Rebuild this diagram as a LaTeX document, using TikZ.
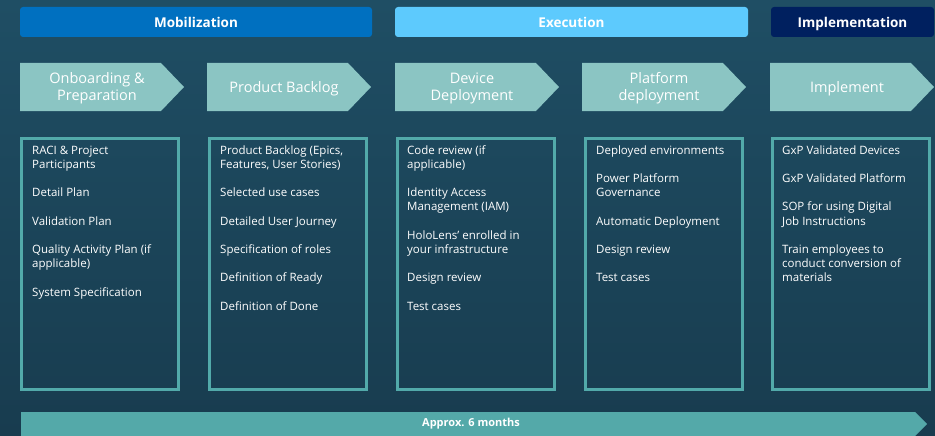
\documentclass[tikz,border=0pt]{standalone}
\usepackage{fontspec}
\setmainfont{Open Sans}
\definecolor{bgtop}{HTML}{1F4E64}
\definecolor{bgbot}{HTML}{183C4F}
\definecolor{mobc}{HTML}{0070C0}
\definecolor{exec}{HTML}{5DCAFD}
\definecolor{implc}{HTML}{00205F}
\definecolor{chevc}{HTML}{8BC5C3}
\definecolor{boxc}{HTML}{52AAAA}
\definecolor{arrc}{HTML}{54A9A9}
\begin{document}
\begin{tikzpicture}[x=1pt,y=-1pt,
  phase/.style={rounded corners=3pt, text=white, inner sep=0pt, minimum height=30pt,
    text height=11.5pt, text depth=0.5pt,
    font=\bfseries\fontsize{13.5}{16}\selectfont},
  chevtxt/.style={text=white, align=center, inner sep=0pt, font=\fontsize{14.5}{17}\selectfont},
  listbox/.style={draw=boxc, line width=3pt, inner sep=0pt},
  listtxt/.style={text=white, align=left, anchor=north west, inner sep=0pt,
    font=\fontsize{11.5}{14.2}\selectfont},
  arrtxt/.style={text=white, inner sep=0pt, font=\bfseries\fontsize{11}{12}\selectfont}]
\useasboundingbox (0,0) rectangle (935,436);
\shade[top color=bgtop, bottom color=bgbot] (0,0) rectangle (935,436);

% phase headers
\node[phase, fill=mobc, minimum width=352pt] (mob) at (196,22) {Mobilization};
\node[phase, fill=exec, minimum width=353pt] (exe) at (571.5,22) {Execution};
\node[phase, fill=implc, minimum width=163pt] (imp) at (852.5,22) {Implementation};

% chevrons
\foreach \x/\n/\t in {20/onb/{Onboarding \&\\Preparation}, 207/pb/{Product Backlog},
    395/dd/{Device\\Deployment}, 582/pd/{Platform\\deployment}, 770/im/{Implement}} {
  \fill[chevc] (\x,63) -- ++(141,0) -- ++(23,24) -- ++(-23,24) -- ++(-141,0) -- cycle;
  \node[chevtxt] (\n) at (\x+77,88.5) {\t};
}

% list boxes
\foreach \x/\n in {18/b1, 206/b2, 394/b3, 582/b4, 769/b5} {
  \node[listbox, minimum width=157pt, minimum height=251pt, anchor=north west]
    (\n) at (\x+1.5,136.5) {};
}

\node[listtxt] (t1) at (32,144) {\strut RACI \& Project\\Participants\\[14.2pt]
  Detail Plan\\[14.2pt]Validation Plan\\[14.2pt]Quality Activity Plan (if\\applicable)\\[14.2pt]
  System Specification};
\node[listtxt] (t2) at (220,144) {\strut Product Backlog (Epics,\\Features, User Stories)\\[14.2pt]
  Selected use cases\\[14.2pt]Detailed User Journey\\[14.2pt]Specification of roles\\[14.2pt]
  Definition of Ready\\[14.2pt]Definition of Done};
\node[listtxt] (t3) at (407,144) {\strut Code review (if\\applicable)\\[14.2pt]
  Identity Access\\Management (IAM)\\[14.2pt]HoloLens’ enrolled in\\your infrastructure\\[14.2pt]
  Design review\\[14.2pt]Test cases};
\node[listtxt] (t4) at (596,144) {\strut Deployed environments\\[14.2pt]Power Platform\\Governance\\[14.2pt]
  Automatic Deployment\\[14.2pt]Design review\\[14.2pt]Test cases};
\node[listtxt] (t5) at (782,144) {\strut GxP Validated Devices\\[14.2pt]GxP Validated Platform\\[14.2pt]
  SOP for using Digital\\Job Instructions\\[14.2pt]Train employees to\\conduct conversion of\\materials};

% bottom arrow
\fill[arrc] (21,412) -- (915,412) -- (927,424) -- (915,436) -- (21,436) -- cycle;
\node[arrtxt] (dur) at (471,424) {Approx. 6 months};
\end{tikzpicture}
\end{document}
